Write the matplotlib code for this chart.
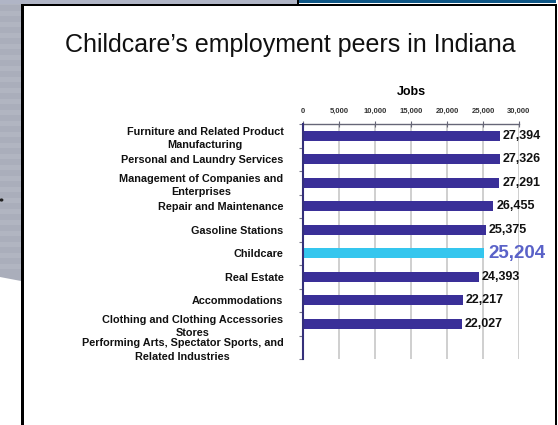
import matplotlib
matplotlib.use("Agg")
import matplotlib.pyplot as plt
from matplotlib.patches import Rectangle, Polygon
import numpy as np

# ---- data ----
industries = [
    "Furniture and Related Product\nManufacturing",
    "Personal and Laundry Services",
    "Management of Companies and\nEnterprises",
    "Repair and Maintenance",
    "Gasoline Stations",
    "Childcare",
    "Real Estate",
    "Accommodations",
    "Clothing and Clothing Accessories\nStores",
    "Performing Arts, Spectator Sports, and\nRelated Industries",
]
jobs = [27394, 27326, 27291, 26455, 25375, 25204, 24393, 22217, 22027, None]
value_labels = ["27,394", "27,326", "27,291", "26,455", "25,375", "25,204",
                "24,393", "22,217", "22,027", ""]
x_ticks = [0, 5000, 10000, 15000, 20000, 25000, 30000]
x_tick_labels = ["0", "5,000", "10,000", "15,000", "20,000", "25,000", "30,000"]
highlight = "Childcare"

W, H = 558, 425
BAR = "#3a2f98"
HIGHLIGHT = "#35c6ee"
HIGHLIGHT_TEXT = "#5a62c8"

plt.rcParams["font.family"] = ["Liberation Sans", "DejaVu Sans"]

fig = plt.figure(figsize=(W / 100, H / 100), dpi=100)
fig.patch.set_facecolor("white")


def px_rect(x0, y0, x1, y1, **kw):
    """Rectangle given in pixel coordinates measured from the top-left."""
    r = Rectangle((x0 / W, 1 - y1 / H), (x1 - x0) / W, (y1 - y0) / H,
                  transform=fig.transFigure, zorder=0, **kw)
    fig.patches.append(r)
    return r


# slide backdrop: striped grey band on the left, header strip on top
strip = Polygon([(0, 1), (21 / W, 1), (21 / W, 1 - 281 / H), (0, 1 - 277 / H)],
                closed=True, transform=fig.transFigure, facecolor="#aaaebb",
                edgecolor="none", zorder=0)
fig.patches.append(strip)
for y in range(0, 272, 11):
    px_rect(0, y, 21, y + 5, facecolor="#b1b5c1", edgecolor="none")
px_rect(0, 0, 297, 4, facecolor="#b0b5c6", edgecolor="none")
px_rect(299, 0, 556, 3, facecolor="#0e5686", edgecolor="none")
px_rect(297, 0, 299, 5, facecolor="black", edgecolor="none")
fig.patches.append(plt.Circle((1.5 / W, 1 - 200 / H), 1.2 / W,
                              transform=fig.transFigure, color="#222222",
                              zorder=0))

# white panel with black frame
px_rect(22, 4, 557, 430, facecolor="white", edgecolor="none")
px_rect(22, 4, 557, 6, facecolor="black", edgecolor="none")
px_rect(21, 4, 24, 430, facecolor="black", edgecolor="none")
px_rect(555, 4, 557, 430, facecolor="black", edgecolor="none")

# title
fig.text(290 / W, 1 - 52 / H, "Childcare\u2019s employment peers in Indiana",
         ha="center", va="baseline", fontsize=18, color="#111111", zorder=3)

# ---- chart ----
ax = fig.add_axes([303 / W, 1 - 359 / H, 216 / W, 235 / H])
ax.set_zorder(5)
ax.set_facecolor("none")

ypos = np.arange(len(industries))
for y, name, v in zip(ypos, industries, jobs):
    if v is None:
        continue
    ax.barh(y, v, height=0.43, color=HIGHLIGHT if name == highlight else BAR,
            zorder=3)

for y, name, v, lab in zip(ypos, industries, jobs, value_labels):
    if v is None:
        continue
    if name == highlight:
        ax.annotate(lab, (v, y), xytext=(3, 0), textcoords="offset points",
                    ha="left", va="center", fontsize=13.5, fontweight="bold",
                    color=HIGHLIGHT_TEXT, zorder=4)
    else:
        ax.annotate(lab, (v, y), xytext=(2, 0), textcoords="offset points",
                    ha="left", va="center", fontsize=9, fontweight="bold",
                    color="#111111", zorder=4)

ax.set_xlim(0, 30000)
ax.set_ylim(len(industries) - 0.5, -0.5)

ax.xaxis.tick_top()
ax.xaxis.set_label_position("top")
ax.set_xticks(x_ticks)
ax.set_xticklabels(x_tick_labels, fontsize=5.5, fontweight="bold",
                   color="#333333")
ax.tick_params(axis="x", direction="inout", length=5, width=0.8,
               color="#666677", pad=4)
ax.set_xlabel("Jobs", fontsize=9, fontweight="bold", labelpad=9)

ax.set_yticks(ypos)
ax.set_yticklabels(industries, fontsize=7.8, fontweight="bold",
                   color="#111111")
for t in ax.get_yticklabels():
    t.set_multialignment("center")
    t.set_linespacing(1.45)
ax.tick_params(axis="y", length=0, pad=14)
ax.set_yticks(np.arange(-0.5, len(industries)), minor=True)
ax.tick_params(axis="y", which="minor", length=3, width=0.8,
               color="#777788", direction="out")

ax.grid(axis="x", color="#cccccc", linewidth=1.3, zorder=0)
ax.set_axisbelow(True)

for side in ("right", "bottom"):
    ax.spines[side].set_visible(False)
ax.spines["left"].set_color("#35307a")
ax.spines["left"].set_linewidth(1.5)
ax.spines["left"].set_zorder(5)
ax.spines["top"].set_color("#666677")
ax.spines["top"].set_linewidth(1.0)

fig.savefig("out.png", dpi=100)
